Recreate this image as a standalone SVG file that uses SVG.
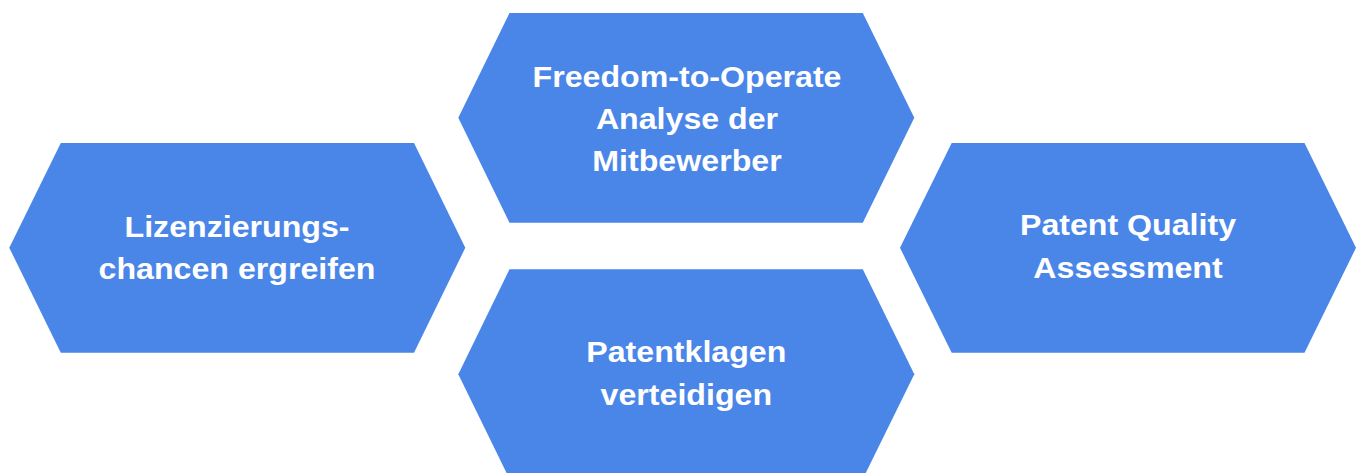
<svg xmlns="http://www.w3.org/2000/svg" width="1359" height="473" viewBox="0 0 1359 473">
<style>
.hex{fill:#4A86E8;stroke:none}
.lbl{font-family:"Liberation Sans",Arial,sans-serif;font-weight:bold;font-size:29.5px;fill:#FFFFFF;text-anchor:middle}
</style>
<rect width="1359" height="473" fill="#FFFFFF"/>
<g id="connectors"></g>
<g id="node-lizenzierung">
<polygon class="hex" points="9.3,247.8 60.8,143 414,143 465.3,247.8 414,352.7 60.8,352.7"/>
<g transform="translate(237,0) scale(1.09,1)">
<text class="lbl" x="0" y="236.8">Lizenzierungs-</text>
<text class="lbl" x="0" y="279">chancen ergreifen</text>
</g>
</g>
<g id="node-fto">
<polygon class="hex" points="458.3,117.8 509.5,13 862.8,13 914.3,117.8 862.8,222.7 509.5,222.7"/>
<g transform="translate(687,0) scale(1.09,1)">
<text class="lbl" x="0" y="86.7">Freedom-to-Operate</text>
<text class="lbl" x="0" y="128.9">Analyse der</text>
<text class="lbl" x="0" y="171">Mitbewerber</text>
</g>
</g>
<g id="node-quality">
<polygon class="hex" points="900,247.8 951.7,143 1304.5,143 1356,247.8 1304.5,352.7 951.7,352.7"/>
<g transform="translate(1128,0) scale(1.09,1)">
<text class="lbl" x="0" y="235.5">Patent Quality</text>
<text class="lbl" x="0" y="277.7">Assessment</text>
</g>
</g>
<g id="node-klagen">
<polygon class="hex" points="458.3,374.2 509.5,269.3 862.8,269.3 914.3,374.2 862.8,479 509.5,479"/>
<g transform="translate(686.3,0) scale(1.09,1)">
<text class="lbl" x="0" y="362.5">Patentklagen</text>
<text class="lbl" x="0" y="404.7">verteidigen</text>
</g>
</g>
</svg>
